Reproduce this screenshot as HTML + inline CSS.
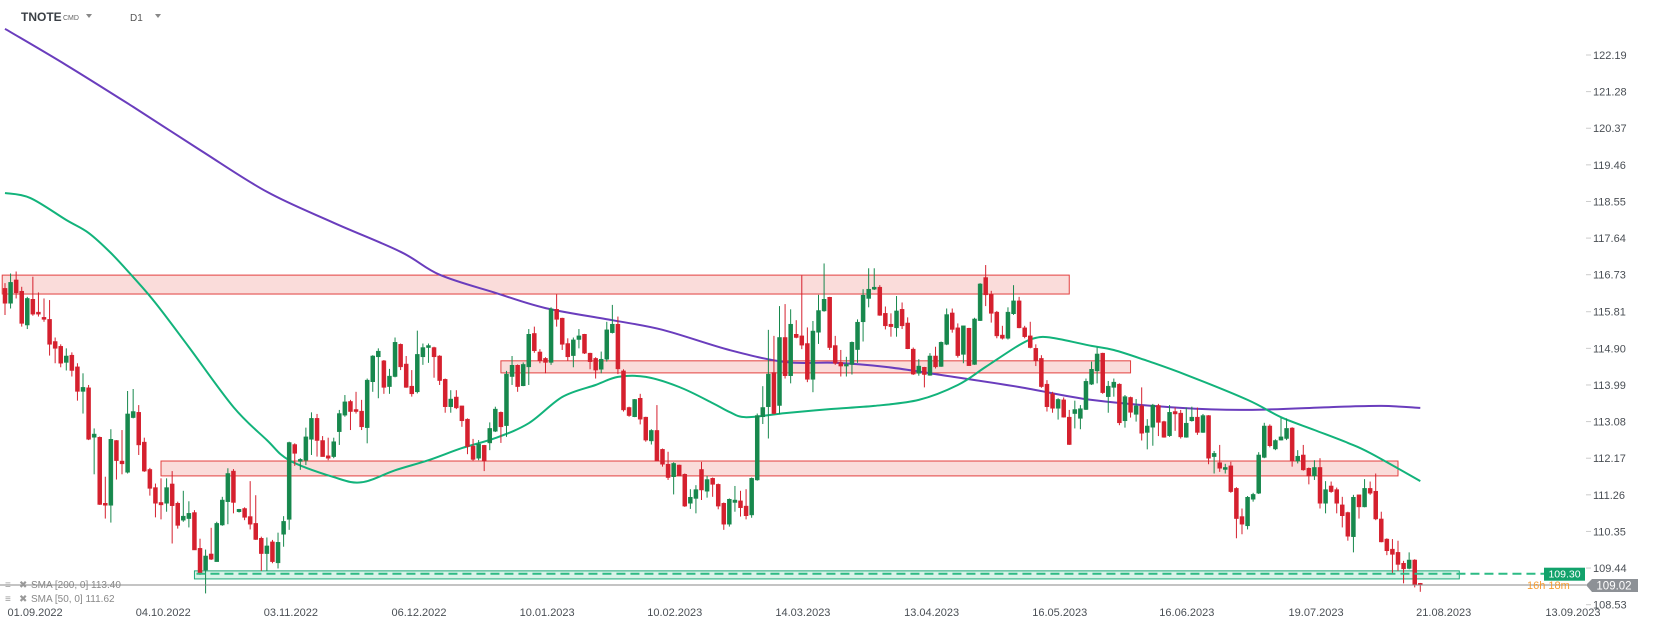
<!DOCTYPE html>
<html><head><meta charset="utf-8"><style>
html,body{margin:0;padding:0;background:#fff;width:1653px;height:630px;overflow:hidden;font-family:"Liberation Sans",sans-serif}
svg{display:block}
</style></head><body>
<svg id="chart" width="1653" height="630" viewBox="0 0 1653 630" xmlns="http://www.w3.org/2000/svg">
<rect x="0" y="0" width="1653" height="630" fill="#fff"/>
<g id="zones"></g>
<g id="smas"></g>
<g id="candles"></g>
<g id="overlay"></g>
<g id="yaxis"></g>
<g id="xaxis"></g>
<g>
<text x="21" y="21" font-size="12" font-weight="bold" fill="#3a3f45">TNOTE</text>
<text x="63" y="20" font-size="7" fill="#666">CMD</text>
<path d="M86 14 L92 14 L89 18 Z" fill="#888"/>
<text x="130" y="21" font-size="10" fill="#555">D1</text>
<path d="M155 14 L161 14 L158 18 Z" fill="#888"/>
</g>
<g>
<g>
<text x="5" y="588" font-size="10" fill="#999">≡</text><text x="19" y="588" font-size="10" fill="#999">✖</text>
<text x="31" y="588" font-size="10" fill="#888">SMA [200, 0] 113.40</text></g>
<g>
<text x="5" y="602" font-size="10" fill="#999">≡</text><text x="19" y="602" font-size="10" fill="#999">✖</text>
<text x="31" y="602" font-size="10" fill="#888">SMA [50, 0] 111.62</text></g>
</g>
</svg>
<script>
const O=[116.39,116.02,116.60,116.32,115.48,116.12,115.80,115.67,115.62,115.07,
114.95,114.55,114.73,114.44,113.83,113.92,112.69,112.69,111.05,111.00,
112.61,112.10,111.82,113.18,113.31,112.57,111.89,111.44,111.07,111.05,
111.53,111.05,110.63,110.67,110.82,109.93,109.39,109.79,109.60,110.51,
111.09,111.85,110.84,110.92,110.72,110.55,110.18,109.80,110.09,109.57,
110.28,110.65,112.51,112.09,112.12,112.64,113.16,112.61,112.23,112.21,
112.83,113.24,113.58,113.38,113.34,112.93,114.07,114.69,114.59,113.95,
114.20,115.00,114.51,113.96,113.82,114.69,114.92,114.92,114.71,114.13,
113.45,113.69,113.47,113.14,112.47,112.17,112.49,112.55,112.84,113.31,
112.98,114.20,114.48,113.97,114.44,115.27,114.81,114.65,114.55,115.87,
115.65,115.02,114.72,115.12,115.25,114.78,114.65,114.38,114.63,115.29,
115.50,114.34,113.43,113.20,113.66,113.19,112.60,112.86,112.39,112.02,
111.71,112.00,111.77,111.05,111.17,111.89,111.35,111.67,111.52,111.05,
110.53,111.07,111.11,110.98,110.76,111.63,113.20,113.45,114.30,113.48,
115.17,114.22,115.25,115.21,115.02,114.13,115.30,115.83,116.17,114.97,
114.55,114.46,114.50,114.87,115.56,116.14,116.37,116.42,115.77,115.50,
115.41,115.87,115.53,114.88,114.28,114.43,114.23,114.71,114.45,115.00,
115.78,115.41,114.75,115.40,114.50,115.59,116.66,116.24,115.80,115.23,
115.15,115.76,116.08,115.41,115.21,114.90,114.65,114.01,113.77,113.41,
113.62,113.19,113.28,113.16,113.38,114.01,114.34,114.78,113.70,113.93,
114.01,113.10,113.68,113.26,113.47,112.81,112.94,113.48,113.08,112.73,
113.33,113.29,112.69,113.10,113.19,112.81,113.23,112.21,112.06,111.89,
111.98,111.42,110.72,110.49,111.15,111.30,112.19,112.97,112.40,112.62,
112.66,112.92,112.10,112.25,111.92,111.73,111.94,111.05,111.48,111.39,
111.01,110.82,110.22,111.26,110.96,111.42,111.35,110.66,110.16,109.91,
109.83,109.56,109.43,109.64,109.06];
const C=[116.02,116.54,116.28,115.52,116.14,115.75,115.75,115.62,115.00,114.90,
114.53,114.71,114.35,113.83,113.93,112.64,112.77,111.02,111.00,112.64,
112.11,112.03,113.27,113.33,112.50,111.85,111.42,111.05,111.01,111.44,
110.99,110.50,110.73,110.80,109.89,109.31,109.74,109.66,110.55,111.13,
111.79,111.07,110.90,110.70,110.53,110.15,109.80,109.99,109.60,110.08,
110.60,112.56,112.29,112.14,112.70,113.16,112.61,112.21,112.17,112.58,
113.28,113.57,113.33,113.33,112.95,114.11,114.71,114.83,113.93,114.21,
115.05,114.44,113.93,113.77,114.75,114.92,114.97,114.69,114.10,113.45,
113.64,113.42,113.10,112.46,112.14,112.52,112.10,112.91,113.39,112.95,
114.26,114.48,113.95,114.50,115.25,114.84,114.59,114.55,115.88,115.62,
115.00,114.69,115.11,115.21,114.78,114.57,114.36,114.63,115.36,115.50,
114.39,113.37,113.23,113.63,113.14,112.62,112.86,112.10,112.02,111.69,
112.04,111.73,110.98,111.20,111.39,111.38,111.64,111.52,110.98,110.53,
111.15,111.13,110.94,110.74,111.67,113.23,113.43,114.26,113.28,115.17,
114.22,115.50,115.17,114.98,114.13,115.33,115.84,116.12,114.92,114.53,
114.46,114.50,115.05,115.55,116.22,116.37,116.42,115.72,115.46,115.44,
115.83,115.46,114.89,114.26,114.46,114.25,114.71,114.44,115.05,115.74,
115.37,114.72,115.46,114.47,115.63,116.50,116.23,115.77,115.21,115.15,
115.80,116.08,115.41,115.19,114.92,114.59,113.95,113.45,113.41,113.63,
113.19,112.51,113.38,113.40,114.08,114.38,114.76,113.80,113.96,114.06,
113.05,113.70,113.31,113.47,112.79,112.97,113.49,113.06,112.69,113.31,
113.27,112.70,113.04,113.19,112.81,113.23,112.17,112.29,111.92,111.94,
111.34,110.67,110.53,111.20,111.27,112.25,112.97,112.48,112.61,112.70,
112.91,112.10,112.22,111.88,111.73,111.94,111.05,111.39,111.34,111.05,
110.74,110.23,111.20,110.96,111.42,111.30,110.66,110.09,109.87,109.78,
109.53,109.42,109.64,109.02,109.02];
const H=[116.52,116.76,116.81,116.43,116.18,116.68,116.29,116.14,116.10,115.17,
115.00,114.90,114.80,114.53,114.28,113.99,112.91,112.71,111.71,112.89,
112.62,112.87,113.84,113.89,113.49,112.68,111.93,111.54,111.67,111.67,
111.85,111.09,111.36,111.10,110.88,110.17,109.90,110.44,110.59,111.21,
111.92,111.90,110.91,110.95,111.60,111.25,110.22,110.20,110.14,110.32,
110.73,112.58,112.54,112.17,112.93,113.31,113.27,112.72,112.68,112.68,
113.37,113.74,113.62,113.82,113.62,114.15,114.73,114.90,114.61,114.39,
115.17,115.02,114.71,114.36,115.34,115.02,115.02,114.94,114.73,114.15,
113.86,113.86,113.47,113.16,112.65,112.62,112.50,113.06,113.45,113.33,
114.34,114.71,114.50,114.55,115.38,115.44,114.88,114.68,115.92,116.24,
115.66,115.15,115.17,115.38,115.26,114.79,114.68,114.82,115.56,115.98,
115.69,114.38,113.45,113.64,113.77,113.20,112.89,113.49,112.41,112.33,
112.07,112.01,111.79,111.40,111.50,112.08,111.73,111.69,111.54,111.07,
111.17,111.48,111.36,111.40,111.69,113.28,113.96,115.36,115.21,115.95,
116.00,115.87,115.60,116.71,115.42,115.58,116.23,117.01,116.18,115.21,
114.86,114.69,115.07,115.62,116.37,116.89,116.89,116.47,115.94,115.77,
116.20,116.04,115.67,114.92,114.63,114.44,114.78,114.94,115.07,115.89,
115.89,115.52,115.46,115.41,115.66,116.52,116.97,116.33,115.83,115.46,
115.92,116.47,116.18,115.46,115.56,115.00,114.73,114.11,113.82,113.66,
113.68,113.37,113.60,113.49,114.15,114.57,114.92,114.79,114.09,114.15,
114.03,113.74,113.70,113.64,113.93,113.14,113.52,113.52,113.10,113.49,
113.43,113.37,113.43,113.45,113.43,113.27,113.24,112.35,112.50,112.03,
112.08,111.45,110.92,111.23,111.31,112.32,113.05,113.01,112.64,113.17,
113.16,112.94,112.37,112.50,111.94,112.12,112.17,111.60,111.59,111.44,
111.21,110.84,111.26,111.26,111.65,111.59,111.79,110.84,110.18,110.16,
110.12,109.62,109.83,109.66,109.07];
const L=[115.73,115.89,116.14,115.44,115.38,115.71,115.69,115.56,114.72,114.53,
114.43,114.35,114.20,113.60,113.28,112.62,111.77,111.01,110.67,110.57,
111.64,111.77,111.79,113.16,112.25,111.83,111.24,110.70,110.65,110.84,
110.05,110.42,110.59,110.45,109.89,109.27,108.81,109.64,109.60,110.49,
110.53,110.80,110.82,110.63,110.40,110.14,109.37,109.37,109.56,109.43,
109.97,110.39,111.98,111.88,112.00,112.25,112.21,112.21,112.12,112.17,
112.50,113.20,112.87,113.28,112.87,112.54,113.82,113.66,113.77,113.77,
114.18,114.36,113.92,113.70,113.78,114.49,114.54,114.17,113.99,113.30,
113.30,113.39,112.95,112.27,112.11,112.12,111.85,112.37,112.82,112.55,
112.70,113.99,113.82,113.96,113.99,114.79,114.53,114.28,114.49,115.44,
114.86,114.59,114.43,114.90,114.76,114.38,114.15,114.28,114.57,115.27,
114.26,113.33,113.20,113.19,113.01,112.58,112.51,112.10,111.96,111.63,
111.27,111.73,110.96,110.91,110.80,111.13,111.19,111.21,110.90,110.39,
110.47,110.84,110.72,110.65,110.69,111.61,113.02,112.66,113.26,113.27,
114.15,114.03,115.15,114.88,114.06,113.81,115.01,115.81,114.86,114.49,
114.20,114.20,114.25,114.54,115.07,115.92,116.35,115.71,115.37,115.19,
115.19,115.38,114.88,114.24,114.22,113.93,114.22,114.40,114.44,114.98,
115.29,114.67,114.53,114.47,114.49,115.58,115.95,115.54,115.15,115.12,
115.12,115.73,115.40,115.15,114.90,114.46,113.92,113.33,113.30,113.13,
113.18,112.50,112.91,112.89,113.37,113.99,114.03,113.77,113.30,113.70,
112.99,112.93,113.18,113.08,112.61,112.39,112.48,112.72,112.68,112.70,
112.85,112.66,112.68,113.08,112.75,112.80,112.02,111.79,111.83,111.79,
111.31,110.18,110.28,110.40,111.09,111.28,112.17,112.44,112.37,112.61,
112.62,111.96,112.04,111.86,111.52,111.63,110.92,110.80,111.31,110.80,
110.45,110.12,109.83,110.67,110.95,111.26,110.63,110.08,109.76,109.31,
109.37,109.06,109.41,108.96,108.85];
const sma200Idx=[0,11,23,35,47,59,71,78,88,97,109,118,130,140,149,158,167,182,195,211,223,238,247,254];
const sma200Val=[122.84,121.94,120.90,119.83,118.79,118.02,117.30,116.73,116.28,115.90,115.60,115.36,114.86,114.56,114.54,114.44,114.26,113.94,113.62,113.42,113.37,113.44,113.47,113.42];
const sma50Idx=[0,4.5,11,15,19,23,27,33,41,47,51,59,64,70,76,82,88,94,100,106,110,115,121,127,130,133,140,148,156,164,171,176,182,185,188,195,199,205,212,223,229,235,241,245,254];
const sma50Val=[118.76,118.64,118.09,117.77,117.27,116.67,116.03,114.93,113.44,112.62,112.12,111.70,111.57,111.87,112.12,112.42,112.67,113.04,113.69,113.99,114.19,114.19,113.94,113.54,113.32,113.19,113.29,113.39,113.47,113.62,113.99,114.44,114.98,115.16,115.16,114.96,114.86,114.59,114.24,113.62,113.19,112.87,112.55,112.30,111.60];
const zoneFrom=[-0.5,89,28];
const zoneTo=[191,202,250];
const zoneTop=[116.72,114.59,112.10];
const zoneBot=[116.25,114.29,111.73];
const supportFrom=34, supportTo=261, supportTop=109.37, supportBot=109.17, supportLevel=109.30;
const lastPrice=109.02;
const yTicks=[122.19,121.28,120.37,119.46,118.55,117.64,116.73,115.81,114.90,113.99,113.08,112.17,111.26,110.35,109.44,108.53];
const dateLabels=["01.09.2022","04.10.2022","03.11.2022","06.12.2022","10.01.2023","10.02.2023","14.03.2023","13.04.2023","16.05.2023","16.06.2023","19.07.2023","21.08.2023","13.09.2023"];
const dateIdx=[5.4,28.4,51.3,74.3,97.3,120.2,143.2,166.3,189.3,212.1,235.3,258.2,281.4];

const NS="http://www.w3.org/2000/svg";
const X=i=>5+i*5.572;
const Y=p=>55+(122.19-p)*40.24;
function mk(tag,attrs,parent){const e=document.createElementNS(NS,tag);for(const k in attrs)e.setAttribute(k,attrs[k]);parent.appendChild(e);return e;}
const gz=document.getElementById('zones'),gs=document.getElementById('smas'),gc=document.getElementById('candles'),go=document.getElementById('overlay'),gy=document.getElementById('yaxis'),gx=document.getElementById('xaxis');

for(let k=0;k<zoneFrom.length;k++){
  const r=mk('rect',{x:X(zoneFrom[k]),y:Y(zoneTop[k]),width:X(zoneTo[k])-X(zoneFrom[k]),height:Y(zoneBot[k])-Y(zoneTop[k]),fill:'#fadcda',stroke:'#e2403f','stroke-width':1},gz);
  
  
}
const sz=mk('rect',{x:X(supportFrom),y:Y(supportTop),width:X(supportTo)-X(supportFrom),height:Y(supportBot)-Y(supportTop),fill:'#d8f3e8',stroke:'#1ea878','stroke-width':1},gz);



function line(idx,val,color,name){
  const pts=idx.map((v,k)=>[X(v),Y(val[k])]);
  let d='M'+pts[0][0].toFixed(1)+' '+pts[0][1].toFixed(1);
  for(let k=0;k<pts.length-1;k++){
    const p0=pts[Math.max(0,k-1)],p1=pts[k],p2=pts[k+1],p3=pts[Math.min(pts.length-1,k+2)];
    const c1=[p1[0]+(p2[0]-p0[0])/6,p1[1]+(p2[1]-p0[1])/6];
    const c2=[p2[0]-(p3[0]-p1[0])/6,p2[1]-(p3[1]-p1[1])/6];
    d+='C'+c1[0].toFixed(1)+' '+c1[1].toFixed(1)+' '+c2[0].toFixed(1)+' '+c2[1].toFixed(1)+' '+p2[0].toFixed(1)+' '+p2[1].toFixed(1);
  }
  const p=mk('path',{d:d,fill:'none',stroke:color,'stroke-width':2,'stroke-linejoin':'round'},gs);
  
  
}
line(sma200Idx,sma200Val,'#6a3dbd','sma-200-line');
line(sma50Idx,sma50Val,'#12b37b','sma-50-line');

for(let i=0;i<O.length;i++){
  const up=C[i]>=O[i];const col=up?'#17884d':'#d5202e';const cx=X(i);
  const g=mk('g',{},gc);
  
  
  mk('line',{x1:cx,x2:cx,y1:Y(H[i]),y2:Y(L[i]),stroke:col,'stroke-width':1},g);
  const top=Math.min(Y(O[i]),Y(C[i]));const h=Math.max(1,Math.abs(Y(O[i])-Y(C[i])));
  mk('rect',{x:cx-2,y:top,width:4,height:h,fill:col,stroke:col,'stroke-width':0.5},g);
}

const lp=mk('line',{x1:0,x2:1586,y1:Y(lastPrice),y2:Y(lastPrice),stroke:'#8a8a8a','stroke-width':1},go);


const dl=mk('line',{x1:X(supportFrom)+2,x2:1544,y1:Y(supportLevel),y2:Y(supportLevel),stroke:'#2dbb85','stroke-width':2,'stroke-dasharray':'9 5'},go);



yTicks.forEach(v=>{
  const y=Y(v);
  const t=mk('line',{x1:1586,x2:1591,y1:y,y2:y,stroke:'#ccc','stroke-width':1},gy);
  
  
  const tx=mk('text',{x:1593,y:y+4,'font-size':11,fill:'#4a4f55'},gy);
  tx.textContent=v.toFixed(2);
  
  
});
dateLabels.forEach((s,k)=>{
  const tx=mk('text',{x:X(dateIdx[k]),y:616,'font-size':11,fill:'#4a4f55','text-anchor':'middle'},gx);
  tx.textContent=s;
  
  
});

const ot=mk('text',{x:1527,y:Y(lastPrice)+4,'font-size':11,fill:'#f7941d','opacity':0.9},go);
ot.textContent='16h 18m';


const gb=mk('rect',{x:1544,y:Y(supportLevel)-6,width:41,height:13,fill:'#12a26b'},go);


const gt=mk('text',{x:1564.5,y:Y(supportLevel)+4,'font-size':10.5,fill:'#fff','text-anchor':'middle'},go);
gt.textContent=supportLevel.toFixed(2);


const pb=mk('path',{d:`M1586 ${Y(lastPrice)} L1592 ${Y(lastPrice)-6} L1638 ${Y(lastPrice)-6} L1638 ${Y(lastPrice)+7} L1592 ${Y(lastPrice)+7} Z`,fill:'#8d9196'},go);


const pt=mk('text',{x:1614,y:Y(lastPrice)+4.5,'font-size':11.5,fill:'#fff','text-anchor':'middle'},go);
pt.textContent=lastPrice.toFixed(2);


</script>
</body></html>
